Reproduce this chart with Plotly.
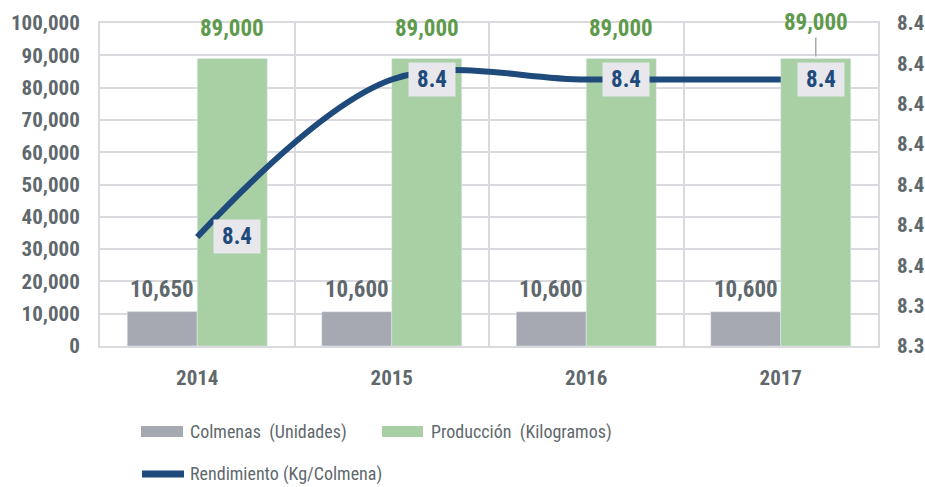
import plotly.graph_objects as go

# Apicultura: colmenas, producción y rendimiento por año
years = ["2014", "2015", "2016", "2017"]
colmenas = [10650, 10600, 10600, 10600]
produccion = [89000, 89000, 89000, 89000]
rendimiento = [8.357, 8.396, 8.396, 8.396]

series_names = ["Colmenas  (Unidades)", "Producción  (Kilogramos)", "Rendimiento (Kg/Colmena)"]

left_ticks = [0, 10000, 20000, 30000, 40000, 50000, 60000, 70000, 80000, 90000, 100000]
right_tickvals = [8.33, 8.34, 8.35, 8.36, 8.37, 8.38, 8.39, 8.40, 8.41]
right_ticktext = ["8.3", "8.3", "8.4", "8.4", "8.4", "8.4", "8.4", "8.4", "8.4"]

FONT = "Roboto Condensed, Liberation Sans Narrow, Arial Narrow, sans-serif"
GRAY_TXT = "#5f696d"
GRID = "#d9d9de"
C_GRAY = "#a6a9b1"
C_GREEN = "#a9cfa4"
C_GREEN_TXT = "#5e9a4c"
C_BLUE = "#1f4a7c"
LABEL_BG = "#e7e7ec"

fig = go.Figure()
fig.add_trace(go.Bar(x=years, y=colmenas, name=series_names[0], marker_color=C_GRAY,
                     yaxis="y"))
fig.add_trace(go.Bar(x=years, y=produccion, name=series_names[1], marker_color=C_GREEN,
                     yaxis="y"))
fig.add_trace(go.Scatter(x=years, y=rendimiento, name=series_names[2], yaxis="y2",
                         mode="lines", line=dict(color=C_BLUE, width=6, shape="spline",
                                                 smoothing=1.0)))

half = 0.18  # half of a bar's width in category units (bargap 0.28, two bars per group)
ann = []
for i, v in enumerate(colmenas):
    ann.append(dict(x=i - half, y=v, xref="x", yref="y", text=f"{v:,}", showarrow=False,
                    yanchor="middle", yshift=22,
                    font=dict(family=FONT, size=23, color=GRAY_TXT, weight="bold")))
for i, v in enumerate(produccion):
    if i == len(produccion) - 1:
        ann.append(dict(x=i + half, y=v, xref="x", yref="y", text=f"{v:,}", showarrow=True,
                        arrowhead=0, arrowwidth=1.5, arrowcolor=C_GRAY, ax=0, ay=-36,
                        standoff=2, borderpad=1,
                        font=dict(family=FONT, size=23, color=C_GREEN_TXT, weight="bold")))
    else:
        ann.append(dict(x=i + half, y=v, xref="x", yref="y", text=f"{v:,}", showarrow=False,
                        yanchor="middle", yshift=30,
                        font=dict(family=FONT, size=23, color=C_GREEN_TXT, weight="bold")))
for i, v in enumerate(rendimiento):
    ann.append(dict(x=i, y=v, xref="x", yref="y2", text=f"{v:.1f}", showarrow=False,
                    xanchor="left", yanchor="middle", xshift=16, bgcolor=LABEL_BG,
                    width=44, height=31, borderpad=1,
                    font=dict(family=FONT, size=23, color=C_BLUE, weight="bold")))

# Legend drawn below the plot area
def px_x(p):
    return (p - 100) / 778.0

def px_y(p):
    return (346 - p) / 323.0

shapes = [
    dict(type="rect", xref="paper", yref="paper", x0=px_x(141), x1=px_x(183),
         y0=px_y(426), y1=px_y(437), fillcolor=C_GRAY, line=dict(width=0)),
    dict(type="rect", xref="paper", yref="paper", x0=px_x(382), x1=px_x(423),
         y0=px_y(426), y1=px_y(437), fillcolor=C_GREEN, line=dict(width=0)),
    dict(type="line", xref="paper", yref="paper", x0=px_x(142), x1=px_x(184),
         y0=px_y(474), y1=px_y(474), line=dict(color=C_BLUE, width=7)),
]
legend_pos = [(188, 431.5), (429, 431.5), (188, 474)]
for name, (lx, ly) in zip(series_names, legend_pos):
    ann.append(dict(x=px_x(lx), y=px_y(ly), xref="paper", yref="paper", text=name,
                    showarrow=False, xanchor="left", yanchor="middle",
                    font=dict(family=FONT, size=18, color=GRAY_TXT)))

fig.update_layout(
    width=925, height=487,
    margin=dict(l=100, r=47, t=23, b=141),
    paper_bgcolor="white", plot_bgcolor="white",
    barmode="group", bargap=0.28, bargroupgap=0,
    showlegend=False,
    annotations=ann, shapes=shapes,
    xaxis=dict(type="category", tickson="boundaries", showgrid=True, gridcolor=GRID,
               gridwidth=2, ticks="", showline=True, linecolor=GRID, linewidth=2,
               mirror=True, ticklabelstandoff=12, automargin=False,
               tickfont=dict(family=FONT, size=21, color=GRAY_TXT, weight="bold")),
    yaxis=dict(range=[0, 100000], tickvals=left_ticks, tickformat=",", showgrid=True,
               gridcolor=GRID, gridwidth=2, zeroline=False, showline=True, linecolor=GRID,
               linewidth=2, mirror=True, ticks="", ticklabelstandoff=14, automargin=False,
               tickfont=dict(family=FONT, size=21, color=GRAY_TXT, weight="bold")),
    yaxis2=dict(range=[8.33, 8.41], overlaying="y", side="right", tickvals=right_tickvals,
                ticktext=right_ticktext, showgrid=False, zeroline=False, ticks="",
                ticklabelstandoff=18, automargin=False,
                tickfont=dict(family=FONT, size=21, color=GRAY_TXT, weight="bold")),
)

fig.write_html("out.html")
